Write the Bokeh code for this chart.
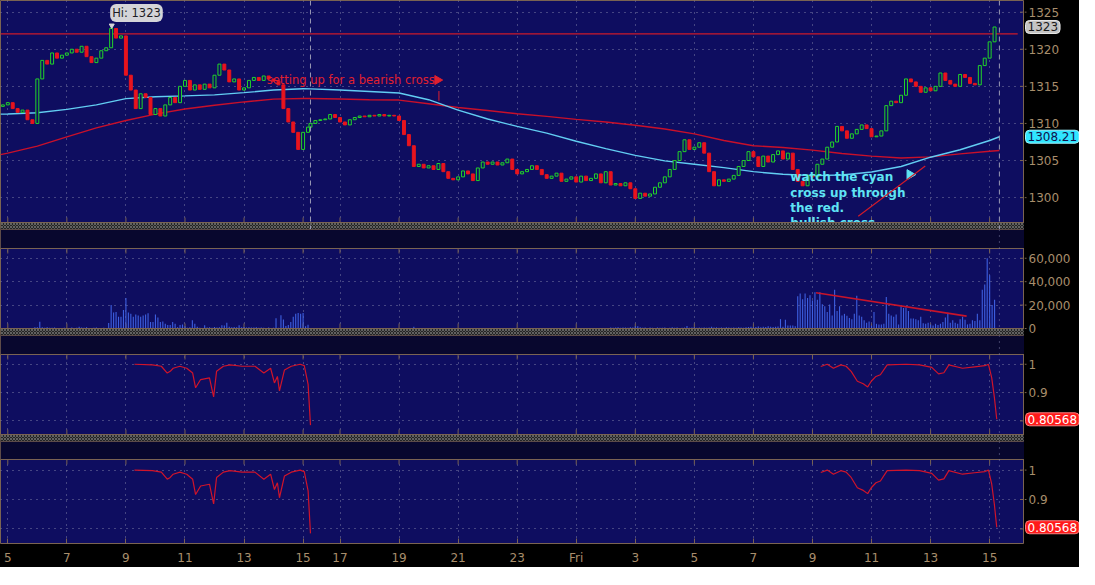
import numpy as np
from bokeh.plotting import figure
from bokeh.layouts import column, row
from bokeh.models import (Range1d, FixedTicker, LinearAxis, Grid, Span, Label,
                          BoxAnnotation)
from bokeh.embed import file_html
from bokeh.resources import INLINE
from bokeh.core.properties import value

# ---------------------------------------------------------------- data
tick_hours = [5, 7, 9, 11, 13, 15, 17, 19, 21, 23, 25, 27, 29, 31, 33, 35, 37, 39]
tick_labels = ["5", "7", "9", "11", "13", "15", "17", "19", "21", "23",
               "Fri", "3", "5", "7", "9", "11", "13", "15"]

first_open = 1312.3
# 10-minute closes, day 1 from 4:50 to 15:10
close_day1 = [1312.5, 1312.8, 1312.0, 1311.5, 1311.8, 1310.5, 1310.0, 1316.0, 1318.5, 1318.0,
              1319.5, 1318.8, 1319.2, 1319.5, 1320.0, 1319.6, 1320.4, 1319.0, 1318.2, 1318.8,
              1319.8, 1320.2, 1322.8, 1321.5, 1321.8, 1316.5, 1314.5, 1312.0, 1314.0, 1313.5,
              1311.2, 1312.0, 1311.0, 1312.5, 1313.5, 1312.8, 1315.0, 1315.8, 1314.5, 1315.2,
              1314.6, 1315.3, 1314.8, 1316.5, 1318.0, 1317.2, 1315.6, 1316.0, 1314.5, 1314.8,
              1315.8, 1316.2, 1315.8, 1316.4, 1316.0, 1315.7, 1315.2, 1312.0, 1310.2, 1308.8,
              1306.5, 1308.8, 1309.5]
# 10-minute closes, from 16:00 to 15:10 next day
close_day2 = [1310.0, 1310.4, 1310.5, 1310.6, 1311.2, 1310.8, 1310.2, 1309.8, 1310.5, 1310.8,
              1311.0, 1310.9, 1311.1, 1311.0, 1311.2, 1311.0, 1311.1, 1311.0, 1310.4, 1308.5,
              1307.0, 1304.2, 1304.5, 1304.0, 1304.3, 1303.8, 1304.6, 1303.5, 1302.6, 1302.4,
              1302.8, 1303.6, 1303.2, 1302.3, 1304.0, 1304.8, 1304.5, 1304.8, 1304.4, 1304.7,
              1305.2, 1303.8, 1303.2, 1303.5, 1303.8, 1304.3, 1303.8, 1303.1, 1302.6, 1302.9,
              1303.3, 1302.2, 1302.5, 1302.8, 1302.1, 1302.9, 1302.3, 1302.6, 1303.2, 1302.0,
              1303.5, 1301.7, 1301.9, 1301.6, 1302.0, 1301.2, 1299.9, 1300.6, 1300.2, 1300.5,
              1301.4, 1302.0, 1302.8, 1303.8, 1305.0, 1306.2, 1307.8, 1306.5, 1306.8, 1307.4,
              1306.0, 1303.5, 1301.6, 1302.4, 1302.2, 1302.5, 1303.0, 1304.2, 1305.0, 1306.2,
              1305.5, 1304.2, 1305.6, 1304.8, 1305.8, 1306.3, 1305.2, 1306.0, 1303.8, 1302.2,
              1301.6, 1303.0, 1302.8, 1304.5, 1305.2, 1306.8, 1307.5, 1309.6, 1309.0, 1308.0,
              1308.6, 1309.2, 1309.8, 1309.3, 1308.2, 1308.3, 1309.0, 1312.4, 1313.0, 1312.8,
              1313.8, 1316.0, 1315.6, 1315.0, 1314.2, 1314.8, 1314.4, 1315.0, 1316.8, 1315.8,
              1315.3, 1315.0, 1316.6, 1316.2, 1315.4, 1315.2, 1317.8, 1318.8, 1321.0, 1323.0]

# 5-minute volume (thousands), day 1 from 4:45 to 15:10
vol_day1_k = [0] * 14 + [1, 1, 5.8, 1, 0.6, 1, 0.6, 0.6, 0.8] + [0, 0, 0] + \
    [0.6, 0, 0.5, 0.8, 0, 0.6, 1.5, 0.8, 0.6, 1.0, 0.5, 0, 0.6, 0.8, 0.5, 0, 0.6, 0.5] + \
    [4.7, 20, 13.6, 14.2, 10, 10, 15.8, 26, 13.6, 12.5,
     10, 12, 11, 10, 11, 12, 13, 5.5, 5.5, 12,
     9.5, 5.5, 6, 4, 3, 3, 5.5, 4, 1, 3,
     3.5, 2, 0.6, 1, 7, 4, 1.5, 0.6, 0.5, 2.8,
     0.8, 1, 0.6, 1.2, 0.8, 1, 2.8, 2.5, 5, 1.5,
     1, 1.2, 1, 2.8, 1, 1.2, 0.8, 1, 0.8, 0.8,
     1, 0.6, 0.8, 0.6, 0.5, 0.8, 0.5, 0.6, 8.8, 0.6,
     11.4, 7.7, 2.2, 3, 5.5, 10, 12.6, 13.2, 12.6, 13.3,
     2, 3.3]
# 5-minute volume (thousands), from 16:00 to 15:10 next day
vol_day2_k = [0, 0, 0, 0, 0, 0.3, 0, 0, 0.3, 0, 0.3] + [0] * 28 + \
    [0.5, 0, 0, 1.5, 0.4, 0.4, 0, 0, 0.5, 0, 0.4, 0, 0, 0, 0, 0.5, 0, 0, 0.4, 0,
     0, 0, 0, 0, 0.4, 0, 0.4, 0, 0, 0.4, 0] + [0] * 39 + \
    [0.3, 0, 0, 0, 0.3, 0, 0, 0, 0.3, 0, 0, 0, 0.3] + \
    [0.8, 0.6, 0.8, 1, 0.6, 0.8, 0.8, 0.6, 1, 0.8] + [1.9, 1.9] + \
    [1, 0.6, 0.8, 0.5, 0.8, 0.6, 0.5, 0.8, 0.6, 0.6, 0.8, 0.5, 0.6, 1, 0.6, 0.8, 0.5, 0.6, 0.8] + \
    [2.1] + \
    [0.6, 0.8, 1, 0.6, 0.8, 0.6, 0.8, 0.6, 0.8, 1.5, 0.8, 1, 0.6, 0.8, 0.6, 1, 0.8, 0.6, 0.8, 0.6,
     1, 0.8, 0.6, 1] + \
    [1.2, 1.5, 1, 1.2, 1.8, 1, 1.5, 1.2, 2, 1.4, 1.2, 1.6, 1.8] + \
    [8, 1.5, 7.5, 2.5, 2.5, 2.5, 2] + \
    [27.5, 30, 25, 30, 26, 28.5, 24, 31, 24.5, 31,
     20.8, 19, 14, 20.5, 11, 33, 15, 19, 11, 12.5,
     10.9, 9, 8, 12.5, 28, 11, 10, 7, 5, 6,
     2.5, 14, 4, 3.5, 3.5, 4, 27, 12.5, 11, 10,
     12, 3.5, 19, 17.5, 18, 15, 8.5, 8.5, 8, 7,
     10, 4.5, 4, 5, 3.5, 2.5, 4, 3, 4, 5.5,
     9.5, 13.5, 5, 7, 5, 4, 8, 10, 7.5, 3.5,
     4, 7, 6.5, 12.5, 7, 33, 37.5, 60, 45.5, 20,
     24.5]

# moving averages (clock hours; day 2 as 24+h)
ma_hours = [4.75, 5, 6, 7, 8, 9, 10, 11, 12, 13, 14, 15,
            16, 17, 18, 19, 20, 21, 22, 23, 24, 25, 26, 27, 28, 29, 30, 31, 32, 33, 34, 35,
            36, 37, 38, 39, 39.33]
ma_cyan = [1311.26, 1311.28, 1311.45, 1311.9, 1312.5, 1313.35, 1313.6, 1313.72, 1313.85, 1314.15,
           1314.5, 1314.67, 1314.66, 1314.5, 1314.3, 1314.1, 1313.2, 1311.8, 1310.6, 1309.6,
           1308.7, 1307.6, 1306.6, 1305.7, 1304.95, 1304.5, 1304.05, 1303.5, 1303.15, 1302.97,
           1303.05, 1303.45, 1304.2, 1305.45, 1306.45, 1307.7, 1308.21]
ma_red = [1305.8, 1306.0, 1306.95, 1308.2, 1309.4, 1310.4, 1311.25, 1311.95, 1312.45, 1312.9,
          1313.28, 1313.36, 1313.36, 1313.3, 1313.2, 1313.15, 1312.65, 1312.15, 1311.75, 1311.3,
          1310.95, 1310.55, 1310.2, 1309.75, 1309.25, 1308.6, 1307.7, 1307.0, 1306.75, 1306.4,
          1305.95, 1305.6, 1305.35, 1305.5, 1305.9, 1306.25, 1306.36]

# lower study (same in both panes)
corr1_hours = [9.29, 9.9, 10.2, 10.4, 10.5, 10.6, 10.83, 11.06, 11.26, 11.36,
               11.53, 11.83, 11.97, 12.07, 12.3, 12.53, 12.93, 13.37, 13.67, 13.9,
               14.03, 14.13, 14.2, 14.37, 14.6, 14.9, 15.04, 15.17, 15.25]
corr1_vals = [1.0, 0.998, 0.993, 0.969, 0.975, 0.986, 0.993, 0.986, 0.969, 0.917,
              0.946, 0.952, 0.885, 0.975, 0.993, 0.998, 0.993, 0.993, 0.969, 0.986,
              0.934, 0.957, 0.906, 0.98, 0.993, 1.0, 0.995, 0.929, 0.785]
corr2_hours = [9.28, 9.5, 9.71, 9.96, 10.14, 10.31, 10.52, 10.72, 10.87, 10.99,
               11.15, 11.3, 11.53, 12.17, 12.63, 13.04, 13.27, 13.45, 13.62, 14.08,
               14.49, 14.84, 14.96, 15.07, 15.16, 15.24]
corr2_vals = [0.992, 1.0, 0.986, 0.998, 0.993, 0.975, 0.94, 0.931, 0.92, 0.94,
              0.957, 0.963, 0.998, 1.0, 0.998, 0.989, 0.966, 0.97, 0.998, 0.986,
              0.991, 0.995, 1.0, 0.952, 0.883, 0.80568]

price_ticks = [1300, 1305, 1310, 1315, 1320, 1325]
price_labels = ["1300", "1305", "1310", "1315", "1320", "1325"]
vol_ticks = [0, 20000, 40000, 60000]
vol_labels = ["0", "20,000", "40,000", "60,000"]
corr_grid = [0.8, 0.9, 1.0]
corr_ticks = [0.9, 1.0]
corr_labels = ["0.9", "1"]
hi_value = 1323
last_price = 1323
last_cyan = 1308.21
last_corr = 0.80568
resistance = 1322.07
session_end_hours = [15.25, 39.33]

# ---------------------------------------------------------------- style
BG = "#0e0d60"
HEAD = "#08072e"
SEP = "#242424"
BORDER = "#7a6352"
TXT = "#a88e6c"
GRID = "#8a8ab0"
GREEN = "#22d42a"
RED = "#e8141e"
FONT = "DejaVu Sans"
FW = 1024
RB = 55


def to_pos(h):
    h = np.asarray(h, dtype=float)
    return np.where(h >= 16.0, h - 0.75, h)


tick_pos = [float(v) for v in to_pos(tick_hours)]
xr = Range1d(4.753, 39.43)
x_end = 39.43
xt = FixedTicker(ticks=tick_pos)


def base_fig(fw, fh, x_range, y_range):
    p = figure(frame_width=fw, frame_height=fh, x_range=x_range, y_range=y_range,
               output_backend="svg", toolbar_location=None, tools="",
               x_axis_location=None, y_axis_location=None, min_border=0)
    p.center = [r for r in p.center if not isinstance(r, Grid)]
    p.border_fill_color = "black"
    return p


def panel(plot_h, lo, hi, head_h, sep_h, grid_y, yticks, top=True, labels=False):
    upp = (hi - lo) / plot_h
    yr = Range1d(lo - sep_h * upp, hi + head_h * upp)
    p = base_fig(FW, plot_h + head_h + sep_h, xr, yr)
    p.background_fill_color = BG
    p.outline_line_color = BORDER
    p.add_layout(Grid(dimension=0, ticker=xt, grid_line_color=GRID,
                      grid_line_dash="1 5", grid_line_alpha=0.9))
    p.add_layout(Grid(dimension=1, ticker=FixedTicker(ticks=grid_y), grid_line_color=GRID,
                      grid_line_dash="1 5", grid_line_alpha=0.9))
    n = len(tick_pos)
    if labels:
        xa = LinearAxis(ticker=xt, major_tick_in=5, major_tick_out=0, axis_line_color=None,
                        major_tick_line_color=BORDER, minor_tick_line_color=None,
                        major_label_text_color=TXT, major_label_text_font=FONT,
                        major_label_text_font_size="12px", major_label_standoff=7)
        xa.major_label_overrides = {tp: lb for tp, lb in zip(tick_pos, tick_labels)}
        p.add_layout(xa, "below")
    else:
        p.scatter(x=tick_pos, y=[lo] * n, marker="dash", angle=np.pi / 2, size=10,
                  line_color=BORDER, line_width=1)
    if top:
        p.scatter(x=tick_pos, y=[hi] * n, marker="dash", angle=np.pi / 2, size=10,
                  line_color=BORDER, line_width=1)
    p.scatter(x=[x_end] * len(yticks), y=yticks, marker="dash", size=9,
              line_color=BORDER, line_width=1)
    if sep_h:
        p.add_layout(BoxAnnotation(top=lo, fill_color=SEP, fill_alpha=1, line_alpha=0,
                                   hatch_pattern="x", hatch_color="#707070",
                                   hatch_scale=3, hatch_weight=1, hatch_alpha=0.8))
        p.add_layout(Span(location=lo, dimension="width", line_color=BORDER, line_width=1))
    if head_h:
        p.add_layout(BoxAnnotation(bottom=hi, fill_color=HEAD, fill_alpha=1, line_alpha=0))
        p.add_layout(Span(location=hi, dimension="width", line_color=BORDER, line_width=1))
    return p


def side(p, yticks, ylabels, boxes):
    s = base_fig(RB, p.frame_height, Range1d(0, RB), p.y_range)
    s.background_fill_color = "black"
    s.outline_line_color = None
    s.segment(x0=0, x1=2, y0=yticks, y1=yticks, line_color=BORDER, line_width=1)
    s.text(x=[4] * len(yticks), y=yticks, text=ylabels, text_font=value(FONT),
           text_font_size="12px", text_color=TXT, text_baseline="middle", text_align="left")
    for v, txt, bg, fg, bd in boxes:
        s.add_layout(Label(x=1, y=v, text=txt, text_align="left", text_baseline="middle",
                           text_font=FONT, text_font_size="12px", text_color=fg,
                           background_fill_color=bg, background_fill_alpha=1.0,
                           border_line_color=bd, border_radius=4, padding=2))
    return s


# ---------------------------------------------------------------- price pane
main = panel(222, 1296.65, 1326.57, 0, 7, price_ticks, price_ticks, top=False)

t_bars = np.concatenate([4 + 50 / 60 + np.arange(len(close_day1)) / 6,
                         16 + np.arange(len(close_day2)) / 6])
x_bars = to_pos(t_bars)
closes = np.array(close_day1 + close_day2, dtype=float)
opens = np.concatenate([[first_open], closes[:-1]])
up = closes > opens + 0.05
dn = closes < opens - 0.05
dj = ~(up | dn)
bw = 0.1

for s_h in session_end_hours:
    main.add_layout(Span(location=float(to_pos(s_h)), dimension="height",
                         line_color="#9a9ab4", line_dash="5 4", line_width=1))

main.line(x=[xr.start, 39.2], y=[resistance, resistance], line_color="#cc1a2a", line_width=1.3)
main.line(x=to_pos(ma_hours), y=ma_red, line_color="#c8102a", line_width=1.4)
main.line(x=to_pos(ma_hours), y=ma_cyan, line_color="#62cdf2", line_width=1.4)

main.vbar(x=x_bars[up], bottom=opens[up], top=closes[up], width=bw,
          fill_color=BG, line_color=GREEN, line_width=1)
main.vbar(x=x_bars[dn], bottom=closes[dn], top=opens[dn], width=bw,
          fill_color=RED, line_color=RED, line_width=1)
main.vbar(x=x_bars[dj], bottom=closes[dj] - 0.15, top=opens[dj] + 0.15, width=bw,
          fill_color="#d8d8e0", line_color="#d8d8e0", line_width=1)

# annotations
main.text(x=[13.77], y=[1315.8], text=["setting up for a bearish cross"],
          text_font=value(FONT), text_font_size="11.5px", text_color="#e0202e",
          text_baseline="middle", text_align="left")
main.scatter(x=[19.55], y=[1315.85], marker="triangle", angle=-np.pi / 2, size=9,
             fill_color="#e0202e", line_color="#e0202e")
main.line(x=[19.6, 19.6], y=[1314.37, 1313.06], line_color="#e0202e", line_width=1)

main.text(x=[31.5], y=[1303.7],
          text=["watch the cyan\ncross up through\nthe red.\nbullish cross"],
          text_font=value(FONT), text_font_size="12px", text_font_style="bold",
          text_color="#5fe4f4", text_baseline="top", text_align="left",
          text_line_height=1.1)
main.scatter(x=[35.55], y=[1303.1], marker="triangle", angle=-np.pi / 2, size=10,
             fill_color="#5fe4f4", line_color="#5fe4f4")
main.line(x=[33.80, 36.07], y=[1297.48, 1304.27], line_color="#d01a2a", line_width=1.2)

hi_x = float(x_bars[int(np.argmax(closes[:len(close_day1)]))])
main.add_layout(Label(x=hi_x, y=hi_value, text="Hi: %d" % hi_value, x_offset=-1, y_offset=5,
                      text_align="left", text_baseline="bottom", text_font=FONT,
                      text_font_size="11.5px", text_color="#1c1c24",
                      background_fill_color="#d4d4d8", background_fill_alpha=1.0,
                      border_radius=6, padding=2))
main.scatter(x=[hi_x + 0.02], y=[hi_value + 0.2], marker="inverted_triangle", size=5,
             fill_color="#d4d4d8", line_color="#d4d4d8")

main_side = side(main, price_ticks, price_labels,
                 [(last_price, "%d" % last_price, "#c4c4c4", "#1a1a1a", "#e8e8e8"),
                  (last_cyan, "%.2f" % last_cyan, "#30e6ff", "#10104a", "#a0f4ff")])

# ---------------------------------------------------------------- volume pane
vol = panel(80, 0, 68333, 19, 7, vol_ticks[1:], vol_ticks)
vol.add_layout(Span(location=float(to_pos(session_end_hours[1])), dimension="height",
                    line_color=GRID, line_dash="1 5", line_alpha=0.9))
xv = to_pos(np.concatenate([4.75 + np.arange(len(vol_day1_k)) / 12,
                            16 + np.arange(len(vol_day2_k)) / 12]))
vv = np.array(vol_day1_k + vol_day2_k, dtype=float) * 1000
keep = vv > 0
vol.segment(x0=xv[keep], y0=0, x1=xv[keep], y1=vv[keep], line_color="#3d5fe0", line_width=1.1)
vol.line(x=[32.37, 37.47], y=[30583, 10583], line_color="#c8142a", line_width=1.6)
vol_side = side(vol, vol_ticks, vol_labels, [])

# ---------------------------------------------------------------- study panes
cx1 = to_pos(corr1_hours)
cx2 = to_pos(np.array(corr2_hours) + 24)


def study(plot_h, lo, hi, head_h, sep_h, labels=False):
    p = panel(plot_h, lo, hi, head_h, sep_h, corr_grid, corr_grid, labels=labels)
    p.add_layout(Span(location=float(to_pos(session_end_hours[1])), dimension="height",
                      line_color=GRID, line_dash="1 5", line_alpha=0.9))
    p.line(x=cx1, y=corr1_vals, line_color="#d0142a", line_width=1.2)
    p.line(x=cx2, y=corr2_vals, line_color="#d0142a", line_width=1.2)
    sd = side(p, corr_ticks, corr_labels,
              [(last_corr, "%.5f" % last_corr, "#ff1a1a", "white", "#ff8080")])
    return p, sd


s1, s1_side = study(80, 0.752, 1.0345, 19, 7)
s2, s2_side = study(84, 0.7505, 1.036, 18, 0, labels=True)

layout = column(row(main, main_side, spacing=0),
                row(vol, vol_side, spacing=0),
                row(s1, s1_side, spacing=0),
                row(s2, s2_side, spacing=0), spacing=0)
layout.styles = {"background-color": "black"}

open("out.html", "w").write(file_html(layout, INLINE, title="chart"))
